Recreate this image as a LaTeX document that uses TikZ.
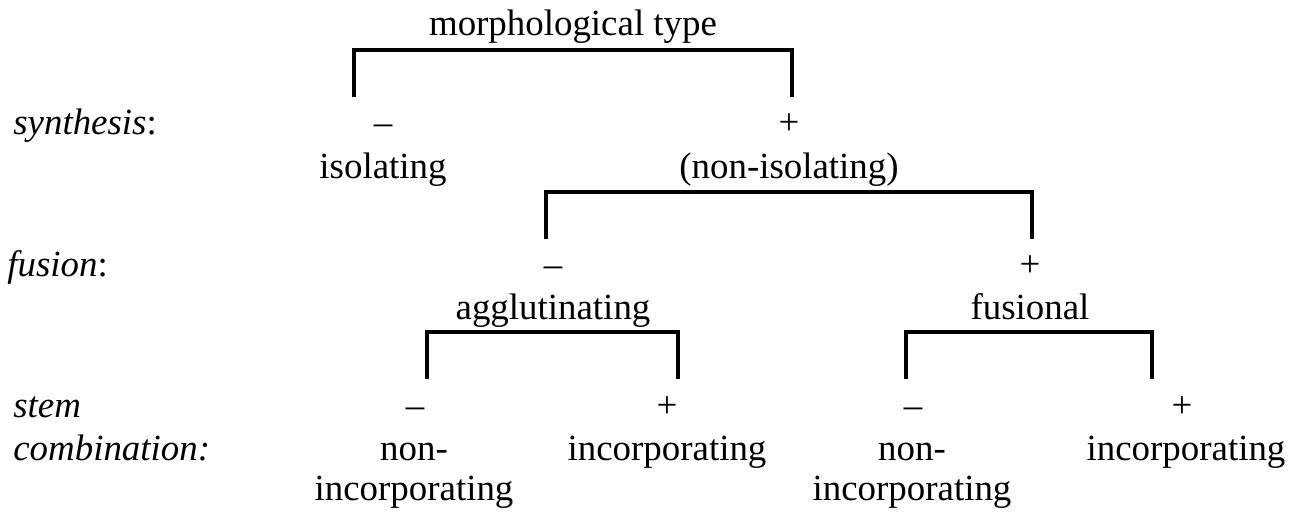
\documentclass[tikz,border=0pt]{standalone}
\usepackage{fontspec}
\setmainfont{Liberation Serif}
\begin{document}
\begin{tikzpicture}[x=0.02cm,y=-0.02cm]
\tikzstyle{every node}+=[inner sep=0pt,anchor=base,font=\fontsize{21}{25}\selectfont]
\tikzstyle{bracket}=[line width=2.8pt]
\useasboundingbox (0,0) rectangle (1300,513);
% feature labels
\node [anchor=base west] (lsyn) at (13,135) {\textit{synthesis}:};
\node [anchor=base west] (lfus) at (7,276) {\textit{fusion}:};
\node [anchor=base west] (lstem) at (13,417) {\textit{stem}};
\node [anchor=base west] (lcomb) at (13,460) {\textit{combination:}};
% synthesis
\node (morph) at (573,36) {morphological type};
\coordinate (b1l) at (354,97);
\coordinate (b1r) at (792,97);
\draw [bracket] (b1l) -- ++(0,-47) -| (b1r);
\node (synm) at (383,135) {–};
\node (synp) at (789,135) {+};
\node (iso) at (383,178) {isolating};
\node (noniso) at (789,178) {(non-isolating)};
% fusion
\coordinate (b2l) at (546,239);
\coordinate (b2r) at (1032,239);
\draw [bracket] (b2l) -- ++(0,-47) -| (b2r);
\node (fusm) at (553,276) {–};
\node (fusp) at (1030,276) {+};
\node (aggl) at (553,319) {agglutinating};
\node (fusl) at (1030,319) {fusional};
% stem combination
\coordinate (b3l) at (427,379);
\coordinate (b3r) at (678,379);
\draw [bracket] (b3l) -- ++(0,-47) -| (b3r);
\coordinate (b4l) at (906,379);
\coordinate (b4r) at (1152,379);
\draw [bracket] (b4l) -- ++(0,-47) -| (b4r);
\node (agm) at (415,417) {–};
\node (agp) at (667,417) {+};
\node (fum) at (913,417) {–};
\node (fup) at (1182,417) {+};
\node (agnon) at (414,460) {non-};
\node (agnoninc) at (414,500) {incorporating};
\node (aginc) at (667,460) {incorporating};
\node (funon) at (912,460) {non-};
\node (funoninc) at (912,500) {incorporating};
\node (fuinc) at (1186,460) {incorporating};
\end{tikzpicture}
\end{document}
